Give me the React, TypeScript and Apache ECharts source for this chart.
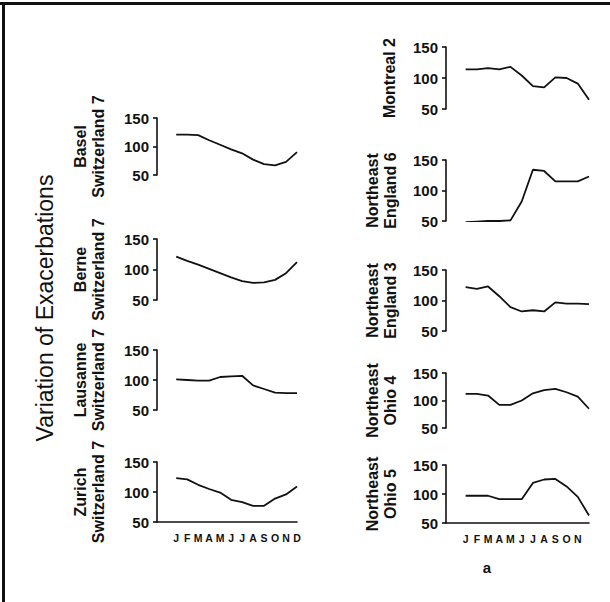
import React, { useEffect, useRef } from "react";
import * as echarts from "echarts";

// ---- data ----
const months = ["J", "F", "M", "A", "M", "J", "J", "A", "S", "O", "N", "D"];
const leftMonthLabels = ["J", "F", "M", "A", "M", "J", "J", "A", "S", "O", "N", "D"];
const rightMonthLabels = ["J", "F", "M", "A", "M", "J", "J", "A", "S", "O", "N", ""];
const yTickValues = [50, 100, 150];

const stationNames = [
  "Basel\nSwitzerland 7",
  "Berne\nSwitzerland 7",
  "Lausanne\nSwitzerland 7",
  "Zurich\nSwitzerland 7",
  "Montreal 2",
  "Northeast\nEngland 6",
  "Northeast\nEngland 3",
  "Northeast\nOhio 4",
  "Northeast\nOhio 5",
];

const basel = [121, 121, 120, 111, 103, 95, 88, 77, 69, 67, 73, 90];
const berne = [121, 114, 108, 101, 94, 87, 81, 78, 79, 83, 94, 112];
const lausanne = [101, 100, 99, 99, 105, 106, 107, 91, 85, 79, 78, 78];
const zurich = [123, 121, 112, 105, 99, 87, 83, 77, 77, 89, 96, 109];
const montreal = [114, 114, 116, 114, 118, 104, 87, 85, 101, 100, 91, 65];
const neEngland6 = [48, 49, 50, 50, 51, 82, 134, 132, 115, 115, 115, 123];
const neEngland3 = [122, 119, 123, 107, 89, 82, 84, 82, 97, 95, 95, 94];
const neOhio4 = [112, 112, 109, 92, 92, 100, 113, 119, 121, 115, 107, 85];
const neOhio5 = [97, 97, 97, 91, 91, 91, 119, 125, 126, 113, 95, 63];

const seriesValues = [basel, berne, lausanne, zurich, montreal, neEngland6, neEngland3, neOhio4, neOhio5];

// ---- layout (positions only) ----
const panels = [
  { left: 157, width: 140, top: 118, height: 57, bottom: false, col: 0 },
  { left: 157, width: 140, top: 239, height: 61, bottom: false, col: 0 },
  { left: 157, width: 140, top: 350, height: 60, bottom: false, col: 0 },
  { left: 157, width: 140, top: 462, height: 60, bottom: true, col: 0 },
  { left: 446, width: 143, top: 47, height: 62, bottom: false, col: 1 },
  { left: 446, width: 143, top: 160, height: 61, bottom: false, col: 1 },
  { left: 446, width: 143, top: 270, height: 61, bottom: false, col: 1 },
  { left: 446, width: 143, top: 373, height: 55, bottom: false, col: 1 },
  { left: 446, width: 143, top: 465, height: 58, bottom: true, col: 1 },
];

const FONT = "'Liberation Sans', Arial, Helvetica, sans-serif";
const INK = "#111";

export default function App() {
  const ref = useRef<HTMLDivElement>(null);

  useEffect(() => {
    if (!ref.current) return;
    const chart = echarts.init(ref.current, undefined, { renderer: "svg" });

    const grid = panels.map((p) => ({
      left: p.left,
      top: p.top,
      width: p.width,
      height: p.height,
      containLabel: false,
    }));

    const xAxis = panels.map((p, i) => {
      const labels = p.col === 0 ? leftMonthLabels : rightMonthLabels;
      return {
        gridIndex: i,
        type: "value",
        min: -1.75,
        max: 11,
        interval: 0.25,
        axisLine: { show: p.bottom, onZero: false, lineStyle: { color: INK, width: 1.6 } },
        axisTick: { show: false },
        splitLine: { show: false },
        axisLabel: {
          show: p.bottom,
          margin: 10,
          fontSize: 10.5,
          fontWeight: "bold",
          fontFamily: FONT,
          color: INK,
          showMinLabel: true,
          showMaxLabel: true,
          formatter: (v: number) =>
            Number.isInteger(v) && v >= 0 && v < labels.length ? labels[v] : "",
        },
      };
    });

    const yAxis = panels.map((p, i) => ({
      gridIndex: i,
      type: "value",
      min: yTickValues[0],
      max: yTickValues[yTickValues.length - 1],
      interval: 50,
      axisLine: { show: true, onZero: false, lineStyle: { color: INK, width: 1.6 } },
      axisTick: { show: true, length: 4, lineStyle: { color: INK, width: 1.6 } },
      splitLine: { show: false },
      axisLabel: {
        margin: 8,
        fontSize: 15,
        fontWeight: "bold",
        fontFamily: FONT,
        color: INK,
      },
    }));

    const series = seriesValues.map((vals, i) => ({
      type: "line",
      xAxisIndex: i,
      yAxisIndex: i,
      data: months.map((_, k) => [k, vals[k]]),
      symbol: "none",
      silent: true,
      lineStyle: { color: INK, width: 1.8 },
    }));

    const labelGraphics = stationNames.map((name, i) => {
      const p = panels[i];
      const twoLine = name.includes("\n");
      const cx = p.col === 0 ? 89 : twoLine ? 381 : 389;
      return {
        type: "text",
        x: cx,
        y: p.top + p.height / 2,
        rotation: Math.PI / 2,
        style: {
          text: name,
          fontSize: 16,
          fontWeight: "bold",
          fontFamily: FONT,
          fill: INK,
          align: "center",
          verticalAlign: "middle",
          lineHeight: 18,
        },
      };
    });

    chart.setOption({
      animation: false,
      backgroundColor: "#fff",
      grid,
      xAxis,
      yAxis,
      series,
      graphic: [
        { type: "rect", shape: { x: 0, y: 2, width: 610, height: 3 }, style: { fill: INK } },
        { type: "rect", shape: { x: 2, y: 2, width: 3, height: 600 }, style: { fill: INK } },
        {
          type: "text",
          x: 45,
          y: 308,
          rotation: Math.PI / 2,
          style: {
            text: "Variation of Exacerbations",
            fontSize: 23,
            fontFamily: FONT,
            fill: INK,
            align: "center",
            verticalAlign: "middle",
          },
        },
        ...labelGraphics,
        {
          type: "text",
          x: 487,
          y: 567,
          style: {
            text: "a",
            fontSize: 15,
            fontWeight: "bold",
            fontFamily: FONT,
            fill: INK,
            align: "center",
            verticalAlign: "middle",
          },
        },
      ],
    });

    return () => chart.dispose();
  }, []);

  return (
    <div
      ref={ref}
      style={{ position: "fixed", left: 0, top: 0, width: 610, height: 602, background: "#fff" }}
    />
  );
}
